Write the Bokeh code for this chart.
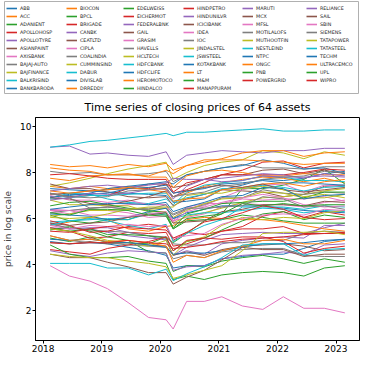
from bokeh.plotting import figure
from bokeh.models import Legend, LegendItem, FixedTicker, Range1d
from bokeh.palettes import Category10_10
from bokeh.embed import file_html
from bokeh.resources import INLINE

# decimal-year sample dates
dates = [2018.12, 2018.45, 2018.8, 2019.1, 2019.45, 2019.8, 2020.1, 2020.22, 2020.45,
         2020.75, 2021.05, 2021.4, 2021.75, 2022.1, 2022.45, 2022.8, 2023.15]

x_ticks = [2018, 2019, 2020, 2021, 2022, 2023]
y_ticks = [2, 4, 6, 8, 10]

assets = ["ABB", "ACC", "ADANIENT", "APOLLOHOSP", "APOLLOTYRE", "ASIANPAINT", "AXISBANK",
          "BAJAJ-AUTO", "BAJFINANCE", "BALKRISIND", "BANKBARODA", "BIOCON", "BPCL", "BRIGADE",
          "CANBK", "CEATLTD", "CIPLA", "COALINDIA", "CUMMINSIND", "DABUR", "DIVISLAB", "DRREDDY",
          "EDELWEISS", "EICHERMOT", "FEDERALBNK", "GAIL", "GRASIM", "HAVELLS", "HCLTECH",
          "HDFCBANK", "HDFCLIFE", "HEROMOTOCO", "HINDALCO", "HINDPETRO", "HINDUNILVR",
          "ICICIBANK", "IDEA", "IOC", "JINDALSTEL", "JSWSTEEL", "KOTAKBANK", "LT", "M&M",
          "MANAPPURAM", "MARUTI", "MCX", "MFSL", "MOTILALOFS", "MUTHOOTFIN", "NESTLEIND",
          "NTPC", "ONGC", "PNB", "POWERGRID", "RELIANCE", "SAIL", "SBIN", "SIEMENS",
          "TATAPOWER", "TATASTEEL", "TECHM", "ULTRACEMCO", "UPL", "WIPRO"]

# number of legend entries in each of the 6 legend columns
legend_col_sizes = [11, 11, 11, 11, 10, 10]

# log closing prices
s_ABB = [7.30, 7.25, 7.20, 7.15, 7.10, 7.05, 7.00, 6.70, 6.75, 6.85, 7.25, 7.45, 7.70, 7.65, 7.75, 7.95, 8.05]
s_ACC = [7.40, 7.30, 7.40, 7.30, 7.40, 7.35, 7.25, 6.95, 7.10, 7.40, 7.55, 7.70, 7.80, 7.75, 7.60, 7.75, 7.55]
s_ADANIENT = [5.15, 5.00, 5.20, 4.95, 4.95, 4.90, 5.20, 4.95, 5.35, 5.90, 6.20, 7.30, 7.30, 7.45, 7.70, 8.15, 7.50]
s_APOLLOHOSP = [7.10, 6.95, 7.00, 7.00, 7.30, 7.30, 7.50, 7.10, 7.25, 7.55, 7.90, 8.10, 8.45, 8.50, 8.20, 8.40, 8.45]
s_APOLLOTYRE = [5.60, 5.55, 5.55, 5.40, 5.25, 5.15, 5.10, 4.40, 4.75, 5.05, 5.30, 5.35, 5.40, 5.35, 5.35, 5.60, 5.80]
s_ASIANPAINT = [7.05, 7.10, 7.20, 7.25, 7.30, 7.50, 7.50, 7.35, 7.45, 7.70, 7.90, 7.90, 8.10, 8.15, 7.95, 8.10, 7.95]
s_AXISBANK = [6.35, 6.20, 6.45, 6.50, 6.60, 6.65, 6.60, 5.90, 6.05, 6.20, 6.50, 6.65, 6.60, 6.60, 6.50, 6.70, 6.80]
s_BAJAJAUTO = [8.05, 7.95, 8.00, 7.90, 7.90, 7.95, 8.05, 7.60, 7.90, 8.05, 8.20, 8.35, 8.20, 8.20, 8.15, 8.25, 8.25]
s_BAJFINANCE = [7.40, 7.55, 7.75, 7.95, 8.15, 8.30, 8.45, 7.70, 8.00, 8.30, 8.45, 8.55, 8.95, 8.85, 8.60, 8.90, 8.75]
s_BALKRISIND = [6.90, 7.10, 7.05, 6.85, 6.70, 6.65, 6.85, 6.60, 7.15, 7.45, 7.55, 7.65, 7.85, 7.80, 7.65, 7.65, 7.60]
s_BANKBARODA = [5.00, 4.90, 4.95, 4.90, 4.75, 4.60, 4.40, 3.85, 3.95, 3.95, 4.25, 4.35, 4.45, 4.45, 4.70, 5.00, 5.10]
s_BIOCON = [5.70, 5.85, 6.05, 5.95, 5.55, 5.45, 5.65, 5.70, 5.95, 6.05, 6.00, 5.95, 5.95, 5.85, 5.70, 5.55, 5.45]
s_BPCL = [6.15, 5.90, 5.80, 5.95, 5.95, 6.25, 6.15, 5.55, 5.90, 5.95, 5.95, 6.15, 6.05, 5.90, 5.80, 5.80, 5.80]
s_BRIGADE = [5.60, 5.45, 5.15, 5.20, 5.40, 5.35, 5.40, 4.80, 4.90, 5.15, 5.45, 5.65, 6.10, 6.30, 6.05, 6.30, 6.15]
s_CANBK = [5.80, 5.55, 5.60, 5.60, 5.40, 5.25, 5.05, 4.40, 4.60, 4.45, 4.90, 5.05, 5.15, 5.20, 5.15, 5.70, 5.70]
s_CEATLTD = [7.50, 7.30, 7.30, 7.15, 6.95, 6.90, 6.95, 6.55, 6.85, 7.05, 7.25, 7.20, 7.15, 6.95, 7.05, 7.40, 7.45]
s_CIPLA = [6.40, 6.35, 6.40, 6.35, 6.25, 6.05, 6.10, 6.00, 6.50, 6.65, 6.65, 6.85, 6.80, 6.85, 6.85, 6.95, 6.75]
s_COALINDIA = [5.75, 5.60, 5.50, 5.45, 5.40, 5.25, 5.20, 4.90, 4.85, 4.85, 4.95, 4.95, 5.05, 5.05, 5.35, 5.45, 5.40]
s_CUMMINSIND = [6.80, 6.60, 6.60, 6.55, 6.55, 6.30, 6.30, 5.80, 6.10, 6.25, 6.45, 6.70, 6.90, 6.95, 7.05, 7.20, 7.30]
s_DABUR = [5.85, 5.90, 5.95, 6.00, 5.95, 6.20, 6.20, 6.00, 6.15, 6.25, 6.25, 6.35, 6.45, 6.40, 6.25, 6.35, 6.30]
s_DIVISLAB = [6.95, 7.00, 7.10, 7.30, 7.40, 7.50, 7.60, 7.50, 7.90, 8.05, 8.20, 8.30, 8.55, 8.40, 8.15, 8.20, 7.95]
s_DRREDDY = [7.75, 7.65, 7.85, 7.90, 7.90, 7.85, 8.10, 7.95, 8.30, 8.55, 8.55, 8.55, 8.50, 8.45, 8.35, 8.40, 8.40]
s_EDELWEISS = [5.50, 5.65, 5.45, 5.20, 5.05, 4.55, 4.50, 3.70, 3.95, 3.90, 4.15, 4.30, 4.40, 4.25, 4.05, 4.25, 4.10]
s_EICHERMOT = [7.90, 7.95, 7.85, 7.75, 7.70, 7.70, 7.70, 7.15, 7.55, 7.70, 7.90, 7.90, 7.90, 7.90, 8.00, 8.15, 8.10]
s_FEDERALBNK = [4.60, 4.45, 4.35, 4.50, 4.60, 4.55, 4.50, 3.75, 3.90, 3.95, 4.25, 4.40, 4.45, 4.55, 4.45, 4.85, 4.90]
s_GAIL = [4.95, 4.90, 5.00, 4.90, 4.95, 4.85, 4.80, 4.40, 4.55, 4.40, 4.65, 4.80, 4.85, 4.90, 4.80, 4.60, 4.65]
s_GRASIM = [7.00, 6.80, 6.80, 6.70, 6.80, 6.60, 6.60, 5.90, 6.45, 6.55, 6.90, 7.25, 7.45, 7.50, 7.15, 7.45, 7.40]
s_HAVELLS = [6.25, 6.35, 6.45, 6.50, 6.40, 6.45, 6.45, 6.15, 6.40, 6.60, 6.90, 6.90, 7.25, 7.10, 7.05, 7.15, 7.10]
s_HCLTECH = [6.10, 6.20, 6.35, 6.35, 6.40, 6.40, 6.45, 6.05, 6.35, 6.65, 6.85, 6.90, 7.15, 7.10, 6.90, 6.90, 7.05]
s_HDFCBANK = [6.85, 6.90, 7.00, 7.00, 7.05, 7.10, 7.10, 6.75, 6.90, 7.05, 7.30, 7.30, 7.45, 7.35, 7.20, 7.35, 7.40]
s_HDFCLIFE = [6.20, 6.15, 6.10, 5.95, 6.05, 6.30, 6.45, 6.00, 6.25, 6.40, 6.55, 6.55, 6.55, 6.45, 6.35, 6.30, 6.25]
s_HEROMOTOCO = [8.20, 8.10, 8.05, 7.90, 7.95, 7.80, 7.80, 7.35, 7.85, 8.05, 8.10, 8.00, 7.85, 7.85, 7.95, 7.90, 7.90]
s_HINDALCO = [5.55, 5.45, 5.55, 5.30, 5.30, 5.25, 5.15, 4.60, 5.00, 5.15, 5.50, 5.90, 6.20, 6.30, 5.95, 6.15, 6.05]
s_HINDPETRO = [5.90, 5.70, 5.40, 5.45, 5.65, 5.75, 5.65, 5.05, 5.40, 5.30, 5.45, 5.55, 5.55, 5.65, 5.35, 5.35, 5.40]
s_HINDUNILVR = [7.20, 7.30, 7.40, 7.45, 7.35, 7.45, 7.55, 7.75, 7.70, 7.70, 7.75, 7.85, 7.95, 7.90, 7.75, 7.95, 7.85]
s_ICICIBANK = [5.80, 5.70, 5.80, 5.85, 6.05, 6.15, 6.25, 5.80, 5.85, 5.90, 6.30, 6.40, 6.60, 6.60, 6.55, 6.75, 6.70]
s_IDEA = [3.95, 3.50, 3.28, 2.95, 2.35, 1.70, 1.60, 1.20, 2.40, 2.40, 2.60, 2.20, 2.05, 2.60, 2.10, 2.10, 1.90]
s_IOC = [5.25, 5.05, 4.95, 4.95, 4.85, 4.80, 4.75, 4.25, 4.40, 4.30, 4.55, 4.65, 4.70, 4.70, 4.40, 4.35, 4.35]
s_JINDALSTEL = [5.55, 5.45, 5.25, 5.05, 4.95, 4.80, 5.05, 4.40, 5.00, 5.20, 5.70, 6.05, 5.95, 6.05, 6.00, 6.25, 6.35]
s_JSWSTEEL = [5.70, 5.90, 6.00, 5.90, 5.70, 5.55, 5.75, 5.00, 5.35, 5.70, 5.95, 6.50, 6.50, 6.50, 6.40, 6.55, 6.50]
s_KOTAKBANK = [6.90, 7.05, 7.05, 7.10, 7.30, 7.35, 7.45, 7.10, 7.20, 7.30, 7.50, 7.55, 7.65, 7.55, 7.55, 7.50, 7.45]
s_LT = [7.20, 7.10, 7.20, 7.25, 7.35, 7.25, 7.15, 6.75, 6.85, 6.90, 7.25, 7.35, 7.50, 7.55, 7.40, 7.60, 7.70]
s_MM = [6.55, 6.70, 6.75, 6.60, 6.45, 6.35, 6.25, 5.60, 6.20, 6.40, 6.65, 6.70, 6.75, 6.75, 6.90, 7.15, 7.15]
s_MANAPPURAM = [4.65, 4.55, 4.45, 4.70, 4.85, 5.00, 5.20, 4.60, 5.05, 5.15, 5.10, 5.20, 5.20, 5.00, 4.50, 4.70, 4.80]
s_MARUTI = [9.10, 9.15, 8.80, 8.85, 8.75, 8.70, 8.90, 8.35, 8.75, 8.85, 8.95, 8.90, 8.85, 8.95, 8.95, 9.05, 9.05]
s_MCX = [6.90, 6.85, 6.65, 6.60, 6.75, 6.95, 7.20, 6.95, 7.20, 7.35, 7.45, 7.35, 7.50, 7.25, 7.15, 7.25, 7.35]
s_MFSL = [6.35, 6.35, 6.15, 6.15, 6.10, 6.20, 6.30, 5.85, 6.30, 6.50, 6.70, 6.90, 7.05, 6.90, 6.60, 6.50, 6.55]
s_MOTILALOFS = [7.10, 6.90, 6.45, 6.50, 6.40, 6.40, 6.60, 6.20, 6.45, 6.45, 6.50, 6.55, 6.95, 6.85, 6.50, 6.55, 6.40]
s_MUTHOOTFIN = [6.05, 6.00, 6.05, 6.20, 6.40, 6.50, 6.50, 6.50, 7.00, 7.10, 7.10, 7.30, 7.40, 7.25, 6.95, 7.05, 6.90]
s_NESTLEIND = [9.10, 9.20, 9.35, 9.40, 9.50, 9.60, 9.70, 9.60, 9.75, 9.75, 9.80, 9.85, 9.90, 9.80, 9.80, 9.85, 9.85]
s_NTPC = [5.10, 5.05, 5.10, 5.00, 4.95, 4.85, 4.75, 4.45, 4.50, 4.50, 4.60, 4.75, 4.90, 4.90, 4.95, 5.05, 5.10]
s_ONGC = [5.25, 5.05, 5.10, 5.00, 5.05, 4.95, 4.80, 4.10, 4.40, 4.30, 4.60, 4.80, 5.05, 5.10, 4.90, 4.90, 5.05]
s_PNB = [4.85, 4.45, 4.30, 4.30, 4.35, 4.15, 4.05, 3.35, 3.50, 3.35, 3.55, 3.65, 3.70, 3.65, 3.50, 3.85, 3.95]
s_POWERGRID = [4.95, 4.90, 4.95, 4.95, 5.05, 4.95, 4.90, 4.70, 4.75, 4.85, 5.00, 5.10, 5.15, 5.20, 5.30, 5.35, 5.35]
s_RELIANCE = [6.80, 6.90, 7.10, 7.05, 7.10, 7.25, 7.30, 6.85, 7.40, 7.70, 7.60, 7.65, 7.85, 7.80, 7.80, 7.85, 7.80]
s_SAIL = [4.45, 4.30, 4.30, 4.10, 3.90, 3.65, 3.65, 3.15, 3.45, 3.75, 4.20, 4.75, 4.65, 4.65, 4.35, 4.45, 4.45]
s_SBIN = [5.70, 5.55, 5.70, 5.65, 5.75, 5.65, 5.70, 5.15, 5.25, 5.35, 5.75, 6.00, 6.15, 6.20, 6.15, 6.40, 6.35]
s_SIEMENS = [7.10, 6.95, 6.90, 6.95, 7.20, 7.25, 7.35, 6.95, 7.05, 7.15, 7.40, 7.50, 7.70, 7.80, 7.85, 8.05, 8.00]
s_TATAPOWER = [4.45, 4.35, 4.30, 4.30, 4.15, 4.05, 3.90, 3.40, 3.55, 3.75, 3.95, 4.60, 5.35, 5.40, 5.40, 5.45, 5.30]
s_TATASTEEL = [4.05, 4.05, 4.05, 3.85, 3.85, 3.55, 3.80, 3.30, 3.60, 3.90, 4.30, 4.85, 4.90, 4.90, 4.40, 4.65, 4.70]
s_TECHM = [6.40, 6.50, 6.60, 6.65, 6.65, 6.60, 6.70, 6.30, 6.50, 6.70, 6.95, 7.00, 7.35, 7.30, 6.85, 7.00, 7.05]
s_ULTRACEMCO = [8.35, 8.25, 8.30, 8.20, 8.35, 8.25, 8.40, 8.10, 8.30, 8.45, 8.60, 8.85, 8.95, 8.95, 8.70, 8.85, 8.90]
s_UPL = [6.25, 6.15, 6.40, 6.40, 6.35, 6.15, 6.10, 5.55, 6.00, 6.10, 6.20, 6.65, 6.55, 6.65, 6.55, 6.60, 6.60]
s_WIPRO = [5.45, 5.40, 5.55, 5.65, 5.60, 5.55, 5.50, 5.15, 5.40, 5.85, 6.00, 6.25, 6.55, 6.40, 6.05, 5.95, 6.00]

series = [s_ABB, s_ACC, s_ADANIENT, s_APOLLOHOSP, s_APOLLOTYRE, s_ASIANPAINT, s_AXISBANK,
          s_BAJAJAUTO, s_BAJFINANCE, s_BALKRISIND, s_BANKBARODA, s_BIOCON, s_BPCL, s_BRIGADE,
          s_CANBK, s_CEATLTD, s_CIPLA, s_COALINDIA, s_CUMMINSIND, s_DABUR, s_DIVISLAB, s_DRREDDY,
          s_EDELWEISS, s_EICHERMOT, s_FEDERALBNK, s_GAIL, s_GRASIM, s_HAVELLS, s_HCLTECH,
          s_HDFCBANK, s_HDFCLIFE, s_HEROMOTOCO, s_HINDALCO, s_HINDPETRO, s_HINDUNILVR,
          s_ICICIBANK, s_IDEA, s_IOC, s_JINDALSTEL, s_JSWSTEEL, s_KOTAKBANK, s_LT, s_MM,
          s_MANAPPURAM, s_MARUTI, s_MCX, s_MFSL, s_MOTILALOFS, s_MUTHOOTFIN, s_NESTLEIND,
          s_NTPC, s_ONGC, s_PNB, s_POWERGRID, s_RELIANCE, s_SAIL, s_SBIN, s_SIEMENS,
          s_TATAPOWER, s_TATASTEEL, s_TECHM, s_ULTRACEMCO, s_UPL, s_WIPRO]

FONT = "DejaVu Sans"
W = 361
LEG_H = 94
colors = [Category10_10[i % 10] for i in range(len(assets))]

# ---------------- legend strip (its own small figure, separate root) ----------------
lf = figure(width=W, height=LEG_H, output_backend="svg", toolbar_location=None,
            x_range=Range1d(0, 1), y_range=Range1d(0, 1),
            x_axis_type=None, y_axis_type=None,
            min_border_left=4, min_border_right=3, min_border_top=1, min_border_bottom=1)
lf.grid.visible = False
lf.outline_line_color = "#b0b0b0"
lf.outline_line_width = 1
lf.background_fill_color = "white"
lf.border_fill_color = "white"

col_x = [2, 62, 119, 179, 238, 302]   # screen offsets of the legend columns
frame_h = LEG_H - 2
start = 0
for c, n in enumerate(legend_col_sizes):
    its = []
    for k in range(start, start + n):
        # series drawn outside this strip's visible range: only the legend swatch shows
        r = lf.line(dates, series[k], line_color=colors[k], line_width=1.6)
        its.append(LegendItem(label=assets[k], renderers=[r]))
    start += n
    lg = Legend(items=its, location=(col_x[c], frame_h - 3 - 8 * n), orientation="vertical",
                label_text_font_size="4.8px", label_text_font=FONT, label_text_color="#222222",
                glyph_width=11, glyph_height=8, label_height=8, label_standoff=3,
                spacing=0, padding=0, margin=0,
                border_line_color=None, background_fill_alpha=0)
    lf.add_layout(lg, "center")

# ---------------- main chart ----------------
p = figure(width=W, height=354 - LEG_H, output_backend="svg", toolbar_location=None,
           x_range=Range1d(2017.87, 2023.40), y_range=Range1d(0.7, 10.39),
           min_border_left=0, min_border_right=2, min_border_top=0, min_border_bottom=0)

for i, vals in enumerate(series):
    p.line(dates, vals, line_color=colors[i], line_width=1)

p.title.text = "Time series of closing prices of 64 assets"
p.title.align = "center"
p.title.text_font = FONT
p.title.text_font_size = "11px"
p.title.text_font_style = "normal"
p.title.text_color = "black"
p.title.standoff = 8

p.xaxis.ticker = FixedTicker(ticks=x_ticks)
p.yaxis.ticker = FixedTicker(ticks=y_ticks)
p.yaxis.axis_label = "price in log scale"
for ax in (p.xaxis, p.yaxis):
    ax.major_label_text_font = FONT
    ax.major_label_text_font_size = "9px"
    ax.major_label_text_color = "black"
    ax.axis_label_text_font = FONT
    ax.axis_label_text_font_size = "9px"
    ax.axis_label_text_font_style = "normal"
    ax.axis_line_color = "black"
    ax.major_tick_line_color = "black"
    ax.major_tick_out = 3
    ax.major_tick_in = 0
    ax.minor_tick_line_color = None
    ax.major_label_standoff = 1
p.yaxis.axis_label_standoff = 4
p.xaxis.axis_label_standoff = 0
p.grid.visible = False
p.outline_line_color = "black"
p.outline_line_alpha = 1

open("out.html", "w").write(file_html([lf, p], INLINE))
